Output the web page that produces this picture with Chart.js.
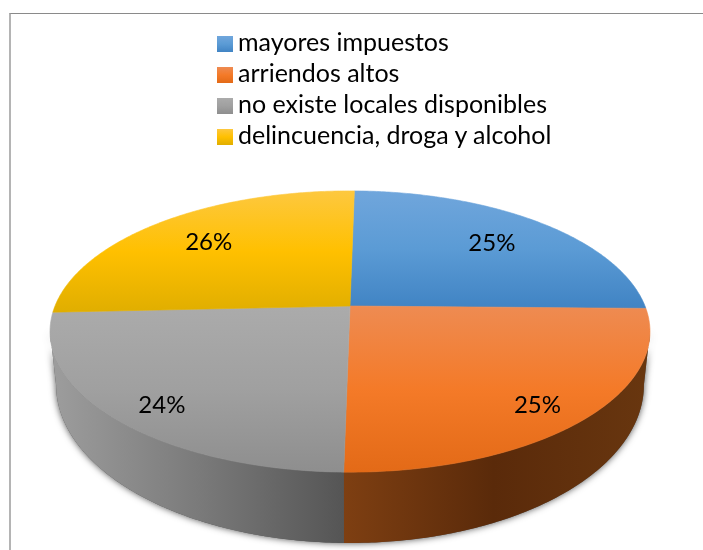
<!DOCTYPE html>
<html>
<head>
<meta charset="utf-8">
<title>Problemas</title>
<script src="https://cdn.jsdelivr.net/npm/chart.js@4/dist/chart.umd.min.js"></script>
<style>
    html, body { margin: 0; padding: 0; background: #fff; overflow: hidden; }
    #wrap { position: relative; width: 703px; height: 550px; overflow: hidden; }
    #frame { position: absolute; left: 9px; top: 13px; width: 900px; height: 900px;
             border-left: 2px solid #b4b4b4; border-top: 1px solid #8a8a8a; }
    #pie { position: absolute; left: 0; top: 0; }
    #legend { position: absolute; left: 217px; top: 26px; margin: 0; padding: 0; list-style: none;
              font-family: Lato, sans-serif; font-size: 25px; color: #000; }
    #legend li { height: 31px; line-height: 31px; white-space: nowrap; }
    #legend span { display: inline-block; width: 16px; height: 16px; margin-right: 5px; vertical-align: -1px; }
</style>
</head>
<body>
<div id="wrap">
    <div id="frame"></div>
    <canvas id="pie" width="703" height="550"></canvas>
    <ul id="legend"></ul>
</div>
<script>
var categories = ['mayores impuestos', 'arriendos altos', 'no existe locales disponibles', 'delincuencia, droga y alcohol'];
var seriesValues = [25, 25, 24, 26];

var faceColors = [
    ['#70a6dc', '#5b9bd5', '#4184c4'],
    ['#ee8b52', '#f47a28', '#e36a17'],
    ['#ababab', '#a0a0a0', '#8e8e8e'],
    ['#fdc83f', '#ffc000', '#e0ae00']
];
var wallColors = [
    ['#2c5a85', '#1f4468', '#2c5a85'],
    ['#7e3f12', '#5a2a0a', '#68360f'],
    ['#9c9c9c', '#7a7a7a', '#555555'],
    ['#a88000', '#806000', '#a88000']
];

// perspective of the disc: top face and bottom rim
var topRim = { cx: 350, y0: 306, a: 136, b: 295, k: 0.1815 };
var bottomRim = { cx: 350, y0: 356.3, a: 152.8, b: 289, k: 0.1815 };

function project(rim, theta, r) {
    var u = r * Math.sin(theta);
    var v = -r * Math.cos(theta);
    var d = 1 - rim.k * v;
    return { x: rim.cx + rim.b * u / d, y: rim.y0 + rim.a * v / d };
}

function traceRim(ctx, rim, from, to) {
    var steps = Math.max(2, Math.ceil(Math.abs(to - from) / 0.01));
    for (var i = 0; i <= steps; i++) {
        var p = project(rim, from + (to - from) * i / steps, 1);
        ctx.lineTo(p.x, p.y);
    }
}

function stopsGradient(ctx, x0, y0, x1, y1, colors) {
    var g = ctx.createLinearGradient(x0, y0, x1, y1);
    for (var i = 0; i < colors.length; i++) {
        g.addColorStop(i / (colors.length - 1), colors[i]);
    }
    return g;
}

// the library's arcs start at -PI/2, here 0 is the top of the disc
function sliceAngles(arc) {
    return { start: arc.startAngle + Math.PI / 2, end: arc.endAngle + Math.PI / 2 };
}

var disc3d = {
    id: 'disc3d',
    beforeDatasetDraw: function (chart) {
        var ctx = chart.ctx;
        var arcs = chart.getDatasetMeta(0).data;
        var edgeA = Math.acos(-topRim.k);
        var edgeB = 2 * Math.PI - edgeA;

        // soft shadow behind the wall
        ctx.save();
        ctx.shadowColor = 'rgba(0,0,0,0.7)';
        ctx.shadowBlur = 7;
        ctx.fillStyle = '#555';
        ctx.beginPath();
        traceRim(ctx, bottomRim, edgeA, edgeB);
        traceRim(ctx, topRim, edgeB, edgeA);
        ctx.closePath();
        ctx.fill();
        ctx.restore();

        // wall of the slices facing the viewer
        arcs.forEach(function (arc, i) {
            var s = sliceAngles(arc);
            var from = Math.max(s.start, edgeA);
            var to = Math.min(s.end, edgeB);
            if (to <= from) return;
            var x1 = project(bottomRim, from, 1).x;
            var x2 = project(bottomRim, to, 1).x;
            ctx.fillStyle = stopsGradient(ctx, Math.min(x1, x2), 0, Math.max(x1, x2), 0, wallColors[i]);
            ctx.beginPath();
            traceRim(ctx, bottomRim, from, to);
            traceRim(ctx, topRim, to, from);
            ctx.closePath();
            ctx.fill();
        });

        // top face
        arcs.forEach(function (arc, i) {
            var s = sliceAngles(arc);
            var apex = project(topRim, 0, 0);
            var minY = apex.y, maxY = apex.y;
            for (var t = s.start; t <= s.end; t += 0.02) {
                var y = project(topRim, t, 1).y;
                minY = Math.min(minY, y);
                maxY = Math.max(maxY, y);
            }
            var g = stopsGradient(ctx, 0, minY, 0, maxY, faceColors[i]);
            ctx.fillStyle = g;
            ctx.strokeStyle = g;
            ctx.lineWidth = 0.6;
            ctx.beginPath();
            ctx.moveTo(apex.x, apex.y);
            traceRim(ctx, topRim, s.start, s.end);
            ctx.closePath();
            ctx.fill();
            ctx.stroke();
        });

        // percentage labels, the front ones sit a little lower on the slice
        var total = seriesValues.reduce(function (a, b) { return a + b; }, 0);
        ctx.fillStyle = '#000';
        ctx.font = '24px Lato, sans-serif';
        ctx.textAlign = 'center';
        ctx.textBaseline = 'middle';
        arcs.forEach(function (arc, i) {
            var s = sliceAngles(arc);
            var mid = (s.start + s.end) / 2;
            var front = Math.cos(mid) < 0;
            if (front) mid += (mid < Math.PI ? 1 : -1) * 3 * Math.PI / 180;
            var p = project(topRim, mid, front ? 0.855 : 0.73);
            ctx.fillText(Math.round(100 * seriesValues[i] / total) + '%', p.x, p.y);
        });

        return false;
    }
};

var chart = new Chart(document.getElementById('pie').getContext('2d'), {
    type: 'pie',
    data: {
        labels: categories,
        datasets: [{
            data: seriesValues,
            backgroundColor: faceColors.map(function (c) { return c[1]; })
        }]
    },
    options: {
        responsive: false,
        animation: false,
        rotation: 1,
        plugins: {
            legend: { display: false },
            tooltip: { enabled: false }
        }
    },
    plugins: [disc3d]
});

// legend list next to the canvas
var text = [];
for (var i = 0; i < categories.length; i++) {
    text.push('<li><span style="background:linear-gradient(' + faceColors[i].join(',') + ')"></span>' + categories[i] + '</li>');
}
document.getElementById('legend').innerHTML = text.join('');
</script>
</body>
</html>
